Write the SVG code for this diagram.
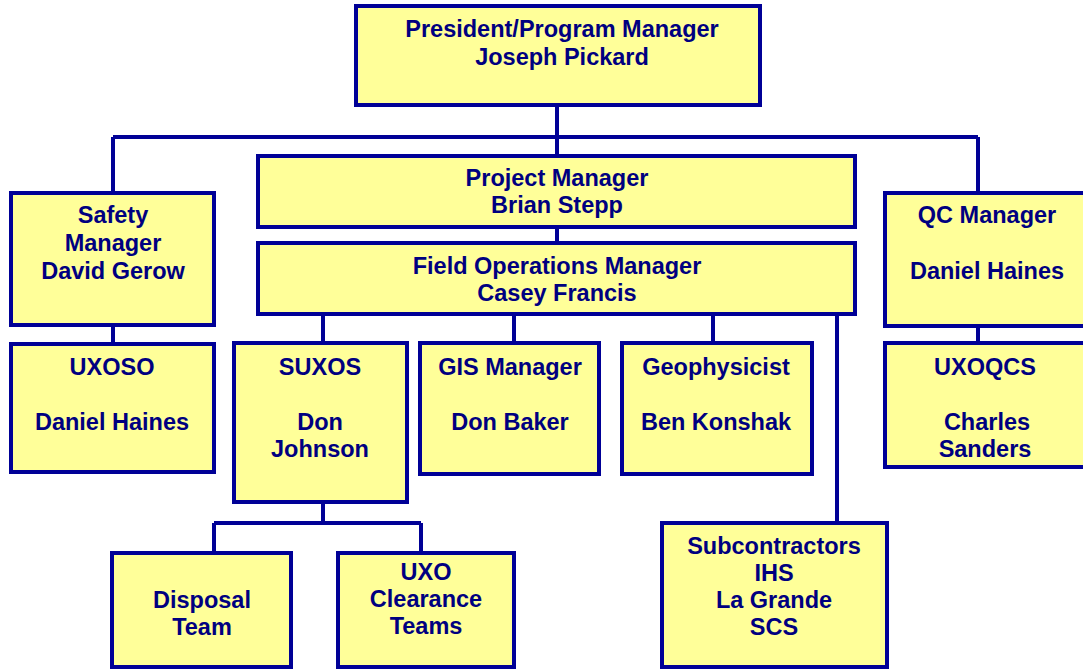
<svg xmlns="http://www.w3.org/2000/svg" width="1083" height="670" viewBox="0 0 1083 670">
<style>
.box{fill:#FFFF99;stroke:#000096;stroke-width:4}
.ln{fill:none;stroke:#000096;stroke-width:4}
text{font-family:"Liberation Sans",Arial,sans-serif;font-weight:bold;font-size:23.5px;fill:#000080;text-anchor:middle}
</style>
<rect width="1083" height="670" fill="#ffffff"/>
<g id="connectors">
<path class="ln" d="M557 105V156M113 137H978M113 137V193M978 137V193M557 227V243M113 325V344M978 326V343M323 314V343M514 314V343M713 314V343M837 314V523M323 502V523M214 523H421M214 523V553M421 523V553"/>
</g>
<g id="president"><rect class="box" x="356" y="6" width="404" height="99"/><text x="562" y="37">President/Program Manager</text><text x="562" y="65">Joseph Pickard</text></g>
<g id="project-manager"><rect class="box" x="258" y="156" width="597" height="71"/><text x="557" y="186">Project Manager</text><text x="557" y="213">Brian Stepp</text></g>
<g id="field-ops"><rect class="box" x="258" y="243" width="597" height="71"/><text x="557" y="274">Field Operations Manager</text><text x="557" y="301">Casey Francis</text></g>
<g id="safety"><rect class="box" x="11" y="193" width="203" height="132"/><text x="113" y="223">Safety</text><text x="113" y="251">Manager</text><text x="113" y="279">David Gerow</text></g>
<g id="uxoso"><rect class="box" x="11" y="344" width="203" height="128"/><text x="112" y="375">UXOSO</text><text x="112" y="430">Daniel Haines</text></g>
<g id="qc"><rect class="box" x="885" y="193" width="205" height="133"/><text x="987" y="223">QC Manager</text><text x="987" y="279">Daniel Haines</text></g>
<g id="uxoqcs"><rect class="box" x="885" y="343" width="205" height="124"/><text x="985" y="375">UXOQCS</text><text x="987" y="430">Charles</text><text x="985" y="457">Sanders</text></g>
<g id="suxos"><rect class="box" x="234" y="343" width="173" height="159"/><text x="320" y="375">SUXOS</text><text x="320" y="430">Don</text><text x="320" y="457">Johnson</text></g>
<g id="gis"><rect class="box" x="420" y="343" width="179" height="131"/><text x="510" y="375">GIS Manager</text><text x="510" y="430">Don Baker</text></g>
<g id="geophysicist"><rect class="box" x="622" y="343" width="190" height="131"/><text x="716" y="375">Geophysicist</text><text x="716" y="430">Ben Konshak</text></g>
<g id="disposal"><rect class="box" x="112" y="553" width="179" height="114"/><text x="202" y="608">Disposal</text><text x="202" y="635">Team</text></g>
<g id="uxo-clearance"><rect class="box" x="338" y="553" width="176" height="114"/><text x="426" y="580">UXO</text><text x="426" y="607">Clearance</text><text x="426" y="634">Teams</text></g>
<g id="subcontractors"><rect class="box" x="662" y="523" width="225" height="144"/><text x="774" y="554">Subcontractors</text><text x="774" y="581">IHS</text><text x="774" y="608">La Grande</text><text x="774" y="635">SCS</text></g>
</svg>
